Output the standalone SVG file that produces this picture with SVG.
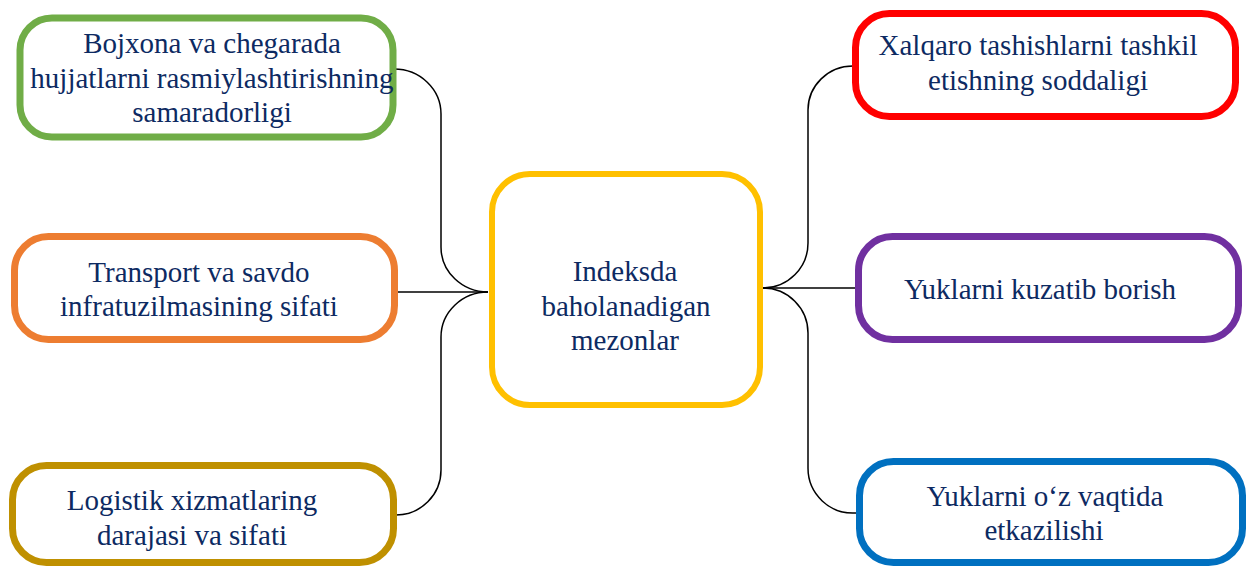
<svg xmlns="http://www.w3.org/2000/svg" width="1248" height="566" viewBox="0 0 1248 566">
<style>
.box{fill:#fff;stroke-width:7}
.t{font-family:'Liberation Serif',Tinos,'Times New Roman',Times,'DejaVu Serif',serif;font-size:29px;fill:#0d2a62;text-anchor:middle}
.c{fill:none;stroke:#000;stroke-width:1.5}
</style>
<rect width="1248" height="566" fill="#fff"/>
<g id="connectors">
<path class="c" d="M 394 69 A 47 45 0 0 1 441 114 L 441 247 A 47 45 0 0 0 488 292"/>
<path class="c" d="M 488 292 A 47 45 0 0 0 441 337 L 441 470 A 45 45 0 0 1 396 515"/>
<path class="c" d="M 397 292 L 488 292"/>
<path class="c" d="M 853 66 A 45 44 0 0 0 808 110 L 808 243 A 45 45 0 0 1 763 288"/>
<path class="c" d="M 763 288 A 45 45 0 0 1 808 333 L 808 468 A 45 45 0 0 0 856 513"/>
<path class="c" d="M 763 288 L 856 288"/>
</g>
<g id="n-center">
<rect class="box" x="492" y="174" width="268" height="231" rx="38" stroke="#FFC000" style="stroke-width:6"/>
<text class="t" x="625" y="281">Indeksda</text>
<text class="t" x="626" y="316">baholanadigan</text>
<text class="t" x="625" y="350">mezonlar</text>
</g>
<g id="n-bojxona">
<rect class="box" x="20" y="18" width="373" height="119" rx="32" stroke="#70AD47"/>
<text class="t" x="212" y="53">Bojxona va chegarada</text>
<text class="t" x="212" y="88">hujjatlarni rasmiylashtirishning</text>
<text class="t" x="212" y="122">samaradorligi</text>
</g>
<g id="n-transport">
<rect class="box" x="14.5" y="236.5" width="380" height="103" rx="34" stroke="#ED7D31"/>
<text class="t" x="199" y="282">Transport va savdo</text>
<text class="t" x="199" y="316">infratuzilmasining sifati</text>
</g>
<g id="n-logistik">
<rect class="box" x="12.5" y="465.5" width="381" height="97" rx="34" stroke="#BF9000"/>
<text class="t" x="192" y="510">Logistik xizmatlaring</text>
<text class="t" x="192" y="545">darajasi va sifati</text>
</g>
<g id="n-xalqaro">
<rect class="box" x="855.5" y="13.5" width="380" height="103" rx="34" stroke="#FF0000"/>
<text class="t" x="1038" y="55">Xalqaro tashishlarni tashkil</text>
<text class="t" x="1038" y="90">etishning soddaligi</text>
</g>
<g id="n-kuzatib">
<rect class="box" x="858.5" y="236.5" width="380" height="103" rx="34" stroke="#7030A0"/>
<text class="t" x="1040" y="299">Yuklarni kuzatib borish</text>
</g>
<g id="n-vaqtida">
<rect class="box" x="859.5" y="461.5" width="383" height="101" rx="34" stroke="#0070C0"/>
<text class="t" x="1045" y="506">Yuklarni o‘z vaqtida</text>
<text class="t" x="1044" y="540">etkazilishi</text>
</g>
</svg>
